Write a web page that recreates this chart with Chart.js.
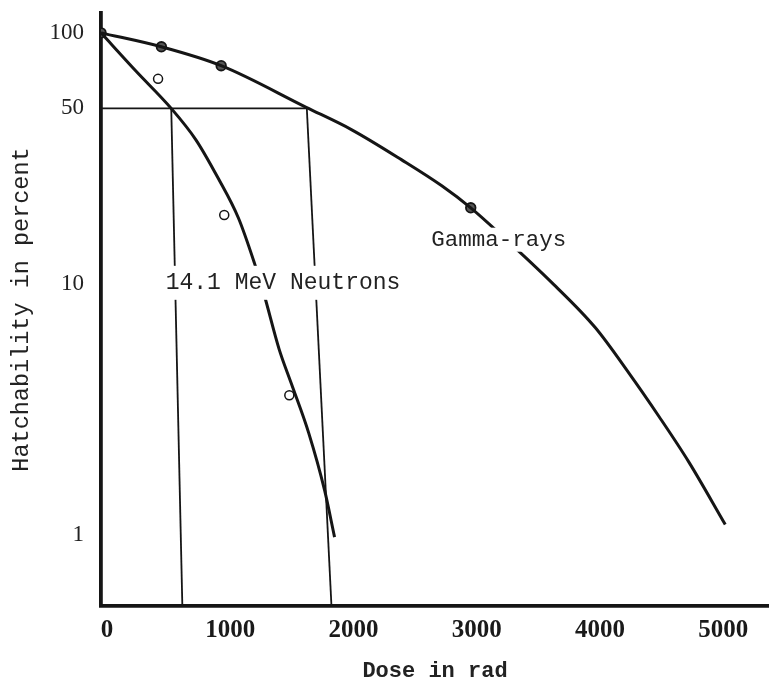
<!DOCTYPE html>
<html>
<head>
<meta charset="utf-8">
<script src="https://cdn.jsdelivr.net/npm/chart.js@4.4.1/dist/chart.umd.min.js"></script>
<style>
  html, body { margin: 0; padding: 0; background: #fff; overflow: hidden; }
  canvas { display: block; }
</style>
</head>
<body>
<canvas id="chart" width="769" height="682"></canvas>
<script>
// Axis ticks
const doseTicks = [0, 1000, 2000, 3000, 4000, 5000];
const pctTicks = [1, 10, 50, 100];

// Gamma-ray survival curve (dose in rad, hatchability %)
const gammaCurveDose = [0, 490, 975, 1665, 2035, 2440, 2765, 3000, 3270, 3660, 4010, 4285, 4530, 4770, 5065];
const gammaCurvePct  = [100, 88, 74, 50.5, 41.1, 31.2, 24.6, 20.1, 15.3, 10.1, 6.7, 4.4, 2.95, 1.95, 1.1];
// Gamma-ray measured points
const gammaDose = [0, 490, 975, 3000];
const gammaPct  = [100, 88, 74, 20.1];

// 14.1 MeV neutron survival curve
const neutronCurveDose = [0, 285, 570, 770, 950, 1115, 1245, 1320, 1445, 1545, 1685, 1815, 1895];
const neutronCurvePct  = [100, 70.3, 50, 37.5, 26.4, 18.3, 12.1, 9.2, 5.5, 4.0, 2.55, 1.5, 0.98];
// 14.1 MeV neutron measured points
const neutronDose = [463, 1000, 1528];
const neutronPct  = [65.6, 18.8, 3.6];

// LD50 read-off lines
const ld50Level = 50;
const gammaLd50 = 1670;
const neutronLd50 = 570;
const gammaLd50Foot = 1870;
const neutronLd50Foot = 660;

const PCT_MIN = 0.521;
const PCT_MAX = 120;

const pts = (xs, ys) => xs.map((x, i) => ({ x, y: ys[i] }));
const INK = '#151515';

const guideStyle = {
  type: 'line', borderColor: INK, borderWidth: 1.8, pointRadius: 0,
  tension: 0, fill: false
};

// Curve names written on the plot, each on a white patch that breaks the lines under it
const curveLabels = {
  id: 'curveLabels',
  afterDatasetsDraw(chart, args, opts) {
    const { ctx } = chart;
    const xs = chart.scales.x, ys = chart.scales.y;
    ctx.save();
    opts.items.forEach(it => {
      ctx.font = it.font;
      const w = ctx.measureText(it.text).width;
      const px = xs.getPixelForValue(it.dose);
      const py = ys.getPixelForValue(it.pct);
      ctx.fillStyle = '#fff';
      ctx.fillRect(px - it.padX, py - it.padY, w + 2 * it.padX, 2 * it.padY);
      ctx.fillStyle = '#222';
      ctx.textAlign = 'left';
      ctx.textBaseline = 'middle';
      ctx.fillText(it.text, px, py);
    });
    ctx.restore();
  }
};

new Chart(document.getElementById('chart'), {
  type: 'line',
  data: {
    datasets: [
      { ...guideStyle, data: [{ x: 0, y: ld50Level }, { x: gammaLd50, y: ld50Level }] },
      { ...guideStyle, data: [{ x: neutronLd50, y: ld50Level }, { x: neutronLd50Foot, y: PCT_MIN }] },
      { ...guideStyle, data: [{ x: gammaLd50, y: ld50Level }, { x: gammaLd50Foot, y: PCT_MIN }] },
      {
        label: 'Gamma-rays', data: pts(gammaCurveDose, gammaCurvePct),
        borderColor: INK, borderWidth: 3, pointRadius: 0,
        cubicInterpolationMode: 'monotone', fill: false
      },
      {
        label: '14.1 MeV Neutrons', data: pts(neutronCurveDose, neutronCurvePct),
        borderColor: INK, borderWidth: 3, pointRadius: 0,
        cubicInterpolationMode: 'monotone', fill: false
      },
      {
        label: 'Gamma-rays (measured)', data: pts(gammaDose, gammaPct),
        showLine: false, pointRadius: 4.8, pointBorderWidth: 1.8,
        pointBorderColor: INK, pointBackgroundColor: '#555'
      },
      {
        label: '14.1 MeV Neutrons (measured)', data: pts(neutronDose, neutronPct),
        showLine: false, pointRadius: 4.5, pointBorderWidth: 1.5,
        pointBorderColor: INK, pointBackgroundColor: '#fff'
      }
    ]
  },
  options: {
    responsive: false,
    animation: false,
    devicePixelRatio: 1,
    layout: { autoPadding: false, padding: { top: 13, right: 0, bottom: 0, left: 0 } },
    plugins: {
      legend: { display: false },
      tooltip: { enabled: false },
      curveLabels: {
        items: [
          { text: '14.1 MeV Neutrons', dose: 525, pct: 10.1, font: '23px "Liberation Mono"', padX: 6, padY: 17 },
          { text: 'Gamma-rays', dose: 2680, pct: 15.0, font: '22.5px "Liberation Mono"', padX: 3, padY: 12 }
        ]
      }
    },
    scales: {
      x: {
        type: 'linear', min: 0, max: 5420,
        afterBuildTicks: s => { s.ticks = doseTicks.map(v => ({ value: v })); },
        afterFit: s => { s.height = 76; s.paddingLeft = 0; s.paddingRight = 0; },
        grid: { display: false, drawTicks: false },
        border: { display: true, color: INK, width: 3.8 },
        ticks: {
          padding: 10, labelOffset: 6, color: '#1a1a1a',
          font: { family: '"Liberation Serif"', size: 25, weight: 'bold' },
          callback: v => String(v)
        },
        title: {
          display: true, text: 'Dose in rad', color: '#222',
          font: { family: '"Liberation Mono"', size: 22, weight: 'bold', lineHeight: 1 },
          padding: { top: 0, bottom: 0 }
        }
      },
      y: {
        type: 'logarithmic', min: PCT_MIN, max: PCT_MAX,
        afterBuildTicks: s => { s.ticks = pctTicks.map(v => ({ value: v })); },
        afterFit: s => { s.width = 101; s.paddingTop = 0; s.paddingBottom = 0; },
        grid: { display: false, drawTicks: false },
        border: { display: true, color: INK, width: 3.8 },
        ticks: {
          padding: 17, color: '#222',
          font: { family: '"Liberation Serif"', size: 23 },
          callback: v => String(v)
        },
        title: {
          display: true, text: 'Hatchability in percent', color: '#222',
          font: { family: '"Liberation Mono"', size: 23.5, lineHeight: 1 },
          padding: { top: 10, bottom: 0 }
        }
      }
    }
  },
  plugins: [curveLabels]
});
</script>
</body>
</html>
